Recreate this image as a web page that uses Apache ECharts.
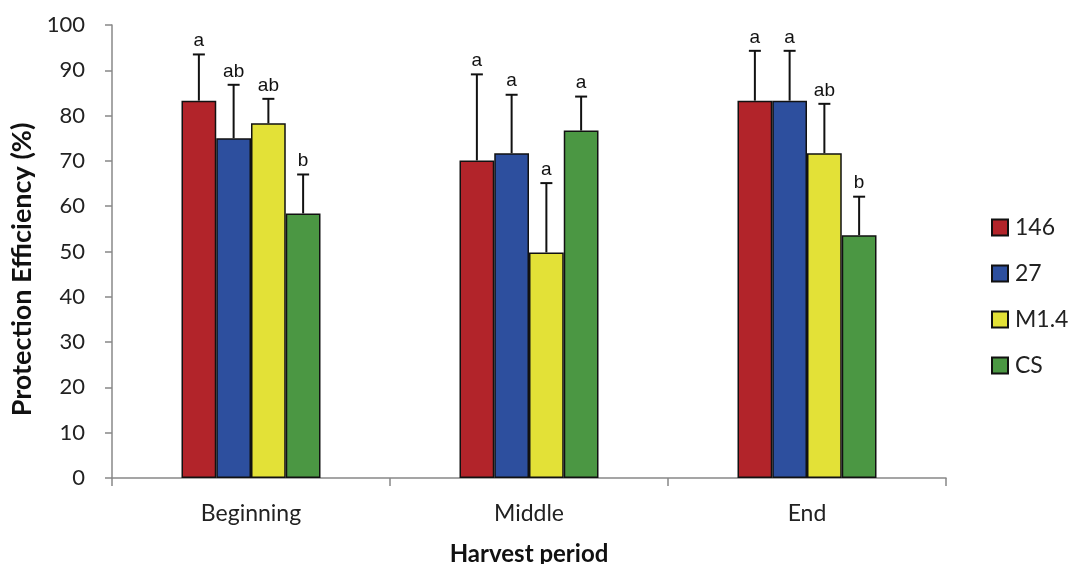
<!DOCTYPE html>
<html>
<head>
<meta charset="utf-8">
<script src="https://cdn.jsdelivr.net/npm/echarts@6/dist/echarts.min.js"></script>
<style>html,body{margin:0;padding:0;background:#fff}#c{width:1070px;height:564px}</style>
</head>
<body>
<div id="c"></div>
<script>
var categories = ['Beginning', 'Middle', 'End'];
var seriesNames = ['146', '27', 'M1.4', 'CS'];
var seriesColors = ['#B2242A', '#2D4F9E', '#E3E137', '#4B9743'];
var values146 = [83.3, 70.1, 83.3];
var values27 = [75.0, 71.7, 83.3];
var valuesM14 = [78.3, 49.8, 71.7];
var valuesCS = [58.4, 76.7, 53.6];
var errTop146 = [93.5, 89.1, 94.3];
var errTop27 = [86.8, 84.6, 94.3];
var errTopM14 = [83.7, 65.1, 82.6];
var errTopCS = [67.0, 84.2, 62.1];
var letters146 = ['a', 'a', 'a'];
var letters27 = ['ab', 'a', 'a'];
var lettersM14 = ['ab', 'a', 'ab'];
var lettersCS = ['b', 'a', 'b'];
var yTicks = [0, 10, 20, 30, 40, 50, 60, 70, 80, 90, 100];

var allValues = [values146, values27, valuesM14, valuesCS];
var allErr = [errTop146, errTop27, errTopM14, errTopCS];
var allLetters = [letters146, letters27, lettersM14, lettersCS];

var FONT = 'Lato';
var series = [];
for (var s = 0; s < 4; s++) {
  series.push({
    name: seriesNames[s],
    type: 'bar',
    data: allValues[s],
    barGap: '0%',
    barCategoryGap: '50%',
    itemStyle: { color: seriesColors[s], borderColor: '#111', borderWidth: 1.5 },
    z: 2
  });
}
var errData = [];
for (var s2 = 0; s2 < 4; s2++) {
  for (var c = 0; c < categories.length; c++) {
    errData.push([c, allValues[s2][c], allErr[s2][c], s2, allLetters[s2][c]]);
  }
}
series.push({
  type: 'custom',
  name: 'err',
  data: errData,
  z: 3,
  silent: true,
  encode: { x: 0, y: [1, 2] },
  renderItem: function (params, api) {
    var ci = api.value(0);
    var v = api.value(1);
    var e = api.value(2);
    var si = api.value(3);
    var letter = errData[params.dataIndex][4];
    var catW = api.size([1, 0])[0];
    var bw = catW * 0.5 / 4;
    var base = api.coord([ci, v]);
    var top = api.coord([ci, e]);
    var x = base[0] + (si - 1.5) * bw;
    var cap = 6;
    return {
      type: 'group',
      children: [
        { type: 'line', shape: { x1: x, y1: base[1], x2: x, y2: top[1] }, style: { stroke: '#111', lineWidth: 2 } },
        { type: 'line', shape: { x1: x - cap, y1: top[1], x2: x + cap, y2: top[1] }, style: { stroke: '#111', lineWidth: 2 } },
        { type: 'text', style: { text: letter, x: x, y: top[1] - 4, align: 'center', verticalAlign: 'bottom', fill: '#111', font: '19px "Liberation Sans"' } }
      ]
    };
  }
});

var chart = echarts.init(document.getElementById('c'), null, { renderer: 'canvas' });
chart.setOption({
  animation: false,
  backgroundColor: '#fff',
  grid: { left: 112, right: 124, top: 25, bottom: 86, containLabel: false, outerBoundsMode: 'none' },
  legend: {
    data: seriesNames,
    orient: 'vertical',
    left: 991,
    top: 216,
    itemWidth: 16,
    itemHeight: 16,
    itemGap: 23,
    icon: 'rect',
    padding: 0,
    textStyle: { fontFamily: FONT, fontSize: 23, color: '#222', padding: [0, 0, 0, 2] }
  },
  xAxis: {
    type: 'category',
    data: categories,
    name: 'Harvest period',
    nameLocation: 'middle',
    nameGap: 64,
    nameTextStyle: { fontFamily: FONT, fontSize: 24, fontWeight: 'bold', color: '#111' },
    axisLine: { lineStyle: { color: '#888', width: 1.5 } },
    axisTick: { show: true, length: 8, lineStyle: { color: '#888', width: 1.5 } },
    axisLabel: { fontFamily: FONT, fontSize: 23, color: '#222', margin: 24 }
  },
  yAxis: {
    type: 'value',
    min: 0,
    max: 100,
    interval: 10,
    name: 'Protection Efficiency (%)',
    nameLocation: 'middle',
    nameGap: 75,
    nameTextStyle: { fontFamily: FONT, fontSize: 27, fontWeight: 'bold', color: '#111', padding: [0, 36, 0, 0] },
    axisLine: { show: true, lineStyle: { color: '#888', width: 1.5 } },
    axisTick: { show: true, length: 7, lineStyle: { color: '#888', width: 1.5 } },
    splitLine: { show: false },
    axisLabel: { fontFamily: FONT, fontSize: 22, color: '#222', margin: 27,
      formatter: function (v) { return yTicks.indexOf(v) >= 0 ? String(v) : ''; } }
  },
  series: series
});
</script>
</body>
</html>
